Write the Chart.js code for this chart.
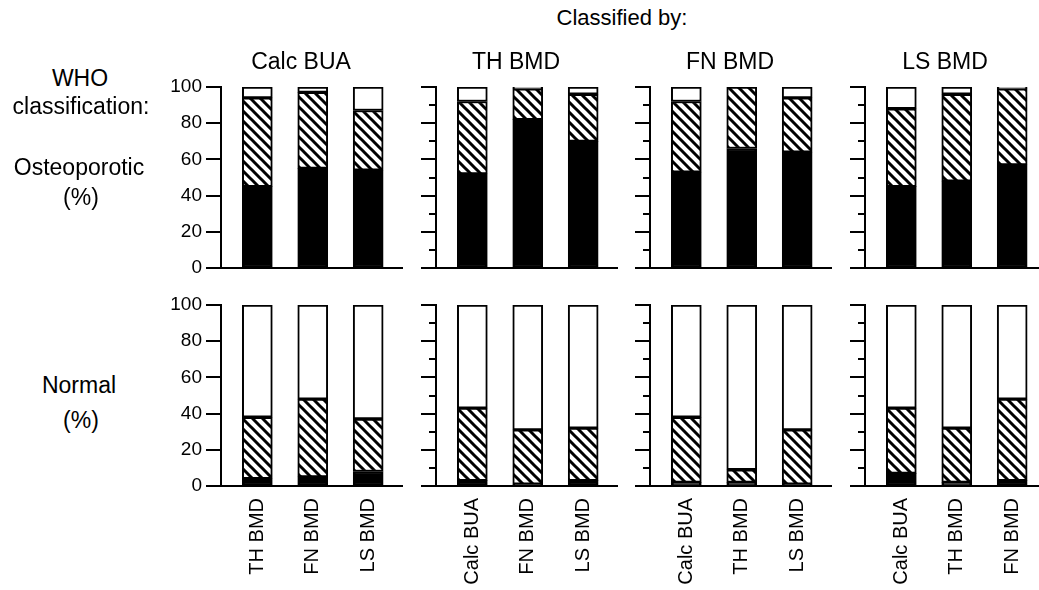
<!DOCTYPE html>
<html>
<head>
<meta charset="utf-8">
<script src="https://cdn.jsdelivr.net/npm/chart.js@4.4.0/dist/chart.umd.min.js"></script>
<style>
  body { margin: 0; background: #fff; }
  #page { position: relative; width: 1039px; height: 590px; overflow: hidden; background: #fff;
          font-family: "Liberation Sans", Arial, sans-serif; color: #000; }
  .lbl { position: absolute; transform: translate(-50%, -50%); white-space: nowrap; font-size: 23px; line-height: 1; }
  .panel { position: absolute; }
</style>
</head>
<body>
<div id="page"></div>
<script>
  // columns: measure used to classify, bars: measure compared against
  var classifiedBy = ['Calc BUA', 'TH BMD', 'FN BMD', 'LS BMD']
  var comparedWith = [
    ['TH BMD', 'FN BMD', 'LS BMD'],
    ['Calc BUA', 'FN BMD', 'LS BMD'],
    ['Calc BUA', 'TH BMD', 'LS BMD'],
    ['Calc BUA', 'TH BMD', 'FN BMD']
  ]
  var yTicks = [0, 20, 40, 60, 80, 100]

  // top row: subjects osteoporotic by the classifying measure (%)
  var osteoBlack = [[45, 55, 54], [52, 82, 70], [53, 66, 64], [45, 48, 57]]
  var osteoHatch = [[49, 42, 33], [40, 17, 26], [39, 34, 30], [43, 48, 42]]
  var osteoWhite = [[6, 3, 13], [8, 1, 4], [8, 0, 6], [12, 4, 1]]

  // bottom row: subjects normal by the classifying measure (%)
  var normBlack = [[4, 5, 8], [3, 1, 3], [2, 2, 1], [7, 2, 3]]
  var normHatch = [[34, 43, 29], [40, 30, 29], [36, 7, 30], [36, 30, 45]]
  var normWhite = [[62, 52, 63], [57, 69, 68], [62, 91, 69], [57, 68, 52]]

  Chart.defaults.font.family = '"Liberation Sans", Arial, sans-serif'
  Chart.defaults.color = '#000'

  var page = document.getElementById('page')

  function addText (txt, x, y, size) {
    var d = document.createElement('div')
    d.className = 'lbl'
    d.textContent = txt
    d.style.left = x + 'px'
    d.style.top = y + 'px'
    if (size) d.style.fontSize = size + 'px'
    page.appendChild(d)
  }

  // diagonal hatch fill
  var tile = document.createElement('canvas')
  tile.width = 10
  tile.height = 10
  var tc = tile.getContext('2d')
  tc.fillStyle = '#fff'
  tc.fillRect(0, 0, 10, 10)
  tc.strokeStyle = '#000'
  tc.lineWidth = 3
  tc.beginPath()
  tc.moveTo(-5, -5); tc.lineTo(15, 15)
  tc.moveTo(-5, 5); tc.lineTo(5, 15)
  tc.moveTo(5, -5); tc.lineTo(15, 5)
  tc.stroke()
  var hatch = document.createElement('canvas').getContext('2d').createPattern(tile, 'repeat')

  // y tick marks: long at labelled values, short in between
  var tickMarks = {
    id: 'tickMarks',
    afterDraw: function (chart) {
      var ys = chart.scales.y
      var ctx = chart.ctx
      var left = chart.chartArea.left
      ctx.save()
      ctx.strokeStyle = '#000'
      ctx.lineWidth = 2
      ys.ticks.forEach(function (t) {
        var py = Math.round(ys.getPixelForValue(t.value))
        var len = yTicks.indexOf(t.value) >= 0 ? 15 : 7
        ctx.beginPath()
        ctx.moveTo(left - len, py)
        ctx.lineTo(left + 1, py)
        ctx.stroke()
      })
      ctx.restore()
    }
  }

  var padTop = 18
  var axisX = [221, 436, 650, 865]
  var rows = [
    { top: 87 - padTop, xh: 18, black: osteoBlack, hatchD: osteoHatch, white: osteoWhite, labels: false },
    { top: 305 - padTop, xh: 100, black: normBlack, hatchD: normHatch, white: normWhite, labels: true }
  ]

  function pts (arr) {
    return arr.map(function (v, i) { return { x: i, y: v } })
  }

  rows.forEach(function (row) {
    classifiedBy.forEach(function (name, c) {
      var box = document.createElement('div')
      box.className = 'panel'
      box.style.left = (axisX[c] - 80) + 'px'
      box.style.top = row.top + 'px'
      var cv = document.createElement('canvas')
      cv.width = 267
      cv.height = padTop + 181 + row.xh
      box.appendChild(cv)
      page.appendChild(box)

      var seg = { borderColor: '#000', borderWidth: 2, borderSkipped: false, barThickness: 30 }
      var cats = comparedWith[c]

      new Chart(cv, {
        type: 'bar',
        data: {
          datasets: [
            Object.assign({ label: 'Osteoporotic', data: pts(row.black[c]), backgroundColor: '#000' }, seg),
            Object.assign({ label: 'Osteopenic', data: pts(row.hatchD[c]), backgroundColor: hatch }, seg),
            Object.assign({ label: 'Normal', data: pts(row.white[c]), backgroundColor: '#fff' }, seg)
          ]
        },
        options: {
          responsive: false,
          animation: false,
          layout: { autoPadding: false, padding: { top: padTop, right: 6, left: 0, bottom: 0 } },
          plugins: { legend: { display: false }, tooltip: { enabled: false } },
          scales: {
            x: {
              type: 'linear',
              stacked: true,
              offset: false,
              min: -0.655,
              max: 2.61,
              afterBuildTicks: function (s) {
                s.ticks = cats.map(function (_, i) { return { value: i } })
              },
              afterFit: function (s) { s.height = row.xh },
              grid: { display: true, drawOnChartArea: false, drawTicks: false },
              border: { display: true, color: '#000', width: 2 },
              ticks: {
                display: row.labels,
                autoSkip: false,
                minRotation: 90,
                maxRotation: 90,
                padding: 12,
                font: { size: 20 },
                callback: function (v) { return cats[v] }
              }
            },
            y: {
              stacked: true,
              min: 0,
              max: 100,
              afterFit: function (s) { s.width = 80 },
              grid: { display: true, drawOnChartArea: false, drawTicks: true, tickLength: 15, tickColor: 'rgba(0,0,0,0)' },
              border: { display: true, color: '#000', width: 2 },
              ticks: {
                display: c === 0,
                stepSize: 10,
                padding: 4,
                font: { size: 19 },
                callback: function (v) { return yTicks.indexOf(v) >= 0 ? v : '' }
              }
            }
          }
        },
        plugins: [tickMarks]
      })
    })
  })

  addText('Classified by:', 622, 18, 22)
  classifiedBy.forEach(function (name, c) { addText(name, axisX[c] + 80, 61) })
  addText('WHO', 80, 78)
  addText('classification:', 81, 106)
  addText('Osteoporotic', 79, 167)
  addText('(%)', 81, 197)
  addText('Normal', 79, 385)
  addText('(%)', 81, 420)
</script>
</body>
</html>
